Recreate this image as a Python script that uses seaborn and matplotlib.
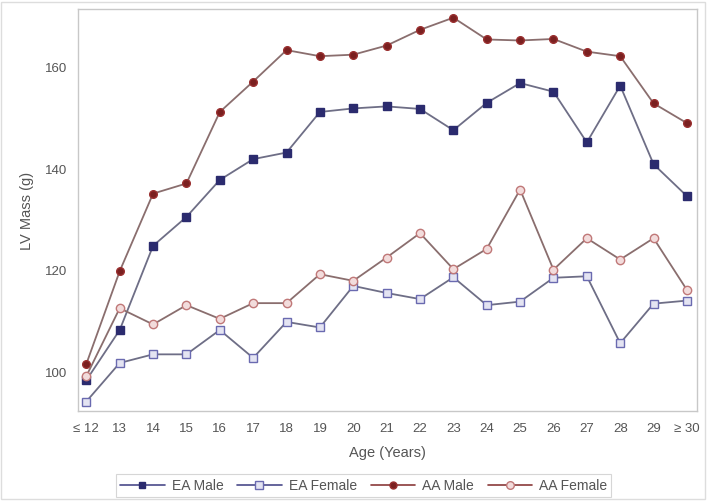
import numpy as np
import pandas as pd
import seaborn as sns
import matplotlib.pyplot as plt
from matplotlib.lines import Line2D
from matplotlib.patches import Rectangle

# Age categories (x axis)
ages = ['≤ 12', '13', '14', '15', '16', '17', '18', '19', '20', '21',
        '22', '23', '24', '25', '26', '27', '28', '29', '≥ 30']

# LV mass (g)
ea_male = [98.2, 108.1, 124.7, 130.4, 137.7, 141.8, 143.1, 151.1, 151.8, 152.2,
           151.7, 147.5, 152.9, 156.8, 155.1, 145.1, 156.3, 140.8, 134.5]
ea_female = [94.0, 101.6, 103.3, 103.3, 108.1, 102.6, 109.7, 108.6, 116.8, 115.4,
             114.2, 118.5, 113.0, 113.7, 118.4, 118.7, 105.5, 113.3, 113.9]
aa_male = [101.4, 119.7, 135.0, 137.0, 151.1, 157.1, 163.3, 162.1, 162.4, 164.2,
           167.3, 169.7, 165.4, 165.2, 165.5, 163.0, 162.1, 152.8, 148.9]
aa_female = [99.0, 112.4, 109.2, 113.0, 110.3, 113.4, 113.4, 119.1, 117.8, 122.4,
             127.2, 120.1, 124.1, 135.8, 120.0, 126.2, 122.0, 126.2, 116.0]

series_names = ['EA Male', 'EA Female', 'AA Male', 'AA Female']
series_values = [ea_male, ea_female, aa_male, aa_female]

rows = []
for name, vals in zip(series_names, series_values):
    for i, v in enumerate(vals):
        rows.append({'pos': i, 'age': ages[i], 'mass': v, 'group': name})
df = pd.DataFrame(rows)

sns.set_style('white')
plt.rcParams['font.family'] = ['Liberation Sans', 'DejaVu Sans']

styles = {
    'EA Male':   dict(color='#6e6e86', marker='s', mfc='#2b2b6e', mec='#2b2b6e', ms=5.5, legline='#4a4a8a'),
    'EA Female': dict(color='#6e6e86', marker='s', mfc='#e4e4f2', mec='#6a6ab0', ms=6, legline='#4a4a8a'),
    'AA Male':   dict(color='#8a6e6e', marker='o', mfc='#7a2020', mec='#9a3030', ms=5.5, legline='#8a3a3a'),
    'AA Female': dict(color='#8a6e6e', marker='o', mfc='#f2dcdc', mec='#c07878', ms=6, legline='#8a3a3a'),
}

fig = plt.figure(figsize=(7.09, 5.02), dpi=100)
ax = fig.add_axes([0.110, 0.179, 0.873, 0.801])

handles = []
for name in series_names:
    st = styles[name]
    sub = df[df['group'] == name]
    sns.lineplot(data=sub, x='pos', y='mass', ax=ax, color=st['color'], lw=1.3,
                 marker=st['marker'], markerfacecolor=st['mfc'],
                 markeredgecolor=st['mec'], markersize=st['ms'], markeredgewidth=1.0,
                 legend=False)
    handles.append(Line2D([], [], color=st['legline'], lw=1.2, marker=st['marker'],
                          markerfacecolor=st['mfc'], markeredgecolor=st['mec'],
                          markersize=st['ms'] - 0.5, label=name))

ax.set_xlim(-0.25, 18.3)
ax.set_ylim(92.1, 171.4)
ax.set_xticks(range(len(ages)))
ax.set_xticklabels(ages)
ax.set_yticks([100, 120, 140, 160])

for sp in ax.spines.values():
    sp.set_color('#c8c8c8')
    sp.set_linewidth(1.0)
ax.tick_params(axis='both', length=4, width=0.8, color='#999999',
               labelcolor='#555555', labelsize=9.5, direction='out')

ax.set_xlabel('Age (Years)', color='#555555', fontsize=10.5, labelpad=8)
ax.set_ylabel('LV Mass (g)', color='#555555', fontsize=10.5, labelpad=8)

leg = fig.legend(handles=handles, loc='center', bbox_to_anchor=(0.513, 0.031),
                 ncol=4, frameon=True, fontsize=10, handlelength=3.2,
                 columnspacing=1.0, handletextpad=0.5, borderpad=0.3,
                 fancybox=False, labelcolor='#555555')
leg.get_frame().set_edgecolor('#cccccc')
leg.get_frame().set_linewidth(0.8)

# light outer border around the whole graphic
fig.patches.append(Rectangle((0.002, 0.004), 0.993, 0.99, transform=fig.transFigure,
                             fill=False, edgecolor='#dddddd', lw=1.0))

fig.savefig('out.png', dpi=100)
